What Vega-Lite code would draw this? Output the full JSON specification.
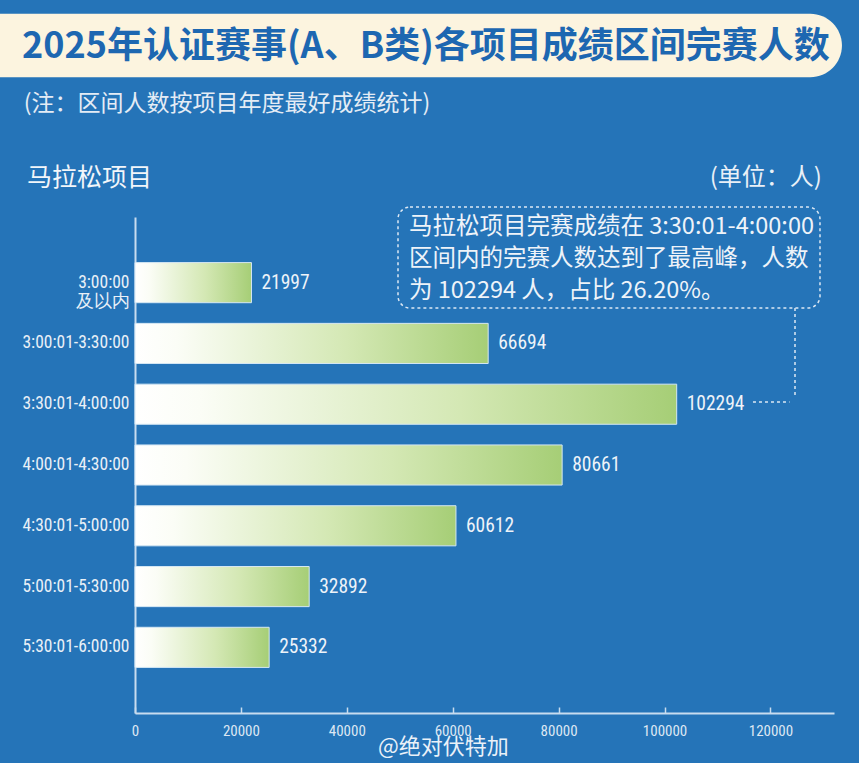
{
  "$schema": "https://vega.github.io/schema/vega-lite/v6.json",
  "width": 699,
  "height": 496,
  "autosize": {"type": "none"},
  "padding": {"left": 135, "top": 217, "right": 25, "bottom": 50},
  "background": "#2574b8",
  "config": {
    "view": {"stroke": null},
    "font": "Noto Sans CJK SC"
  },
  "resolve": {"scale": {"y": "independent"}},
  "layer": [
    {
      "data": {
        "values": [
          {"range": "3:00:00 及以内", "finishers": 21997},
          {"range": "3:00:01-3:30:00", "finishers": 66694},
          {"range": "3:30:01-4:00:00", "finishers": 102294},
          {"range": "4:00:01-4:30:00", "finishers": 80661},
          {"range": "4:30:01-5:00:00", "finishers": 60612},
          {"range": "5:00:01-5:30:00", "finishers": 32892},
          {"range": "5:30:01-6:00:00", "finishers": 25332}
        ]
      },
      "encoding": {
        "y": {
          "field": "range",
          "type": "nominal",
          "sort": null,
          "scale": {"paddingInner": 0.34, "paddingOuter": 0.75},
          "axis": {
            "title": null,
            "ticks": false,
            "domainColor": "#c8dcef",
            "domainWidth": 2,
            "labelFont": "Roboto Condensed, DejaVu Sans Condensed, sans-serif",
            "labelFontSize": 17.5,
            "labelColor": "#e9f0f7",
            "labelPadding": 6,
            "labelExpr": "split(datum.label, ' ')",
            "labelLineHeight": 19
          }
        },
        "x": {
          "field": "finishers",
          "type": "quantitative",
          "scale": {"domain": [0, 132000], "nice": false},
          "axis": {
            "title": null,
            "grid": false,
            "values": [0, 20000, 40000, 60000, 80000, 100000, 120000],
            "format": "d",
            "domainColor": "#c8dcef",
            "domainWidth": 2,
            "tickColor": "#c8dcef",
            "tickSize": -6,
            "tickWidth": 1.5,
            "labelPadding": 16,
            "labelFlush": false,
            "labelFont": "Roboto Condensed, DejaVu Sans Condensed, sans-serif",
            "labelFontSize": 15,
            "labelColor": "#dce7f3"
          }
        }
      },
      "layer": [
        {
          "mark": {
            "type": "bar",
            "stroke": "#d4e7f4",
            "strokeWidth": 1,
            "color": {
              "gradient": "linear",
              "x1": 0, "y1": 0, "x2": 1, "y2": 0,
              "stops": [
                {"offset": 0, "color": "#ffffff"},
                {"offset": 0.12, "color": "#fbfdf6"},
                {"offset": 0.6, "color": "#d4e8b4"},
                {"offset": 1, "color": "#a6ce76"}
              ]
            }
          }
        },
        {
          "mark": {
            "type": "text",
            "align": "left",
            "baseline": "middle",
            "dx": 10,
            "font": "Roboto Condensed, DejaVu Sans Condensed, sans-serif",
            "fontSize": 19.5,
            "color": "#eef3f9"
          },
          "encoding": {"text": {"field": "finishers", "type": "quantitative", "format": "d"}}
        }
      ]
    },
    {
      "data": {"values": [{}]},
      "layer": [
        {
          "mark": {"type": "rect", "color": "#fcf4df", "cornerRadius": 32},
          "encoding": {
            "x": {"datum": -32000, "scale": {"domain": [0, 132000], "nice": false}},
            "x2": {"datum": 133500},
            "y": {"datum": 141, "type": "quantitative", "scale": {"domain": [0, 100], "nice": false, "zero": false}, "axis": null},
            "y2": {"datum": 128.2}
          }
        },
        {
          "mark": {"type": "text", "align": "left", "baseline": "middle", "fontSize": 36, "fontWeight": "bold", "color": "#1d67b1"},
          "encoding": {
            "x": {"datum": -21340, "scale": {"domain": [0, 132000], "nice": false}},
            "y": {"datum": 134.3, "type": "quantitative", "scale": {"domain": [0, 100], "nice": false, "zero": false}, "axis": null},
            "text": {"value": "2025年认证赛事(A、B类)各项目成绩区间完赛人数"}
          }
        },
        {
          "mark": {"type": "text", "align": "left", "baseline": "middle", "fontSize": 23, "color": "#e4ecf5"},
          "encoding": {
            "x": {"datum": -21000, "scale": {"domain": [0, 132000], "nice": false}},
            "y": {"datum": 122.8, "type": "quantitative", "scale": {"domain": [0, 100], "nice": false, "zero": false}, "axis": null},
            "text": {"value": "(注：区间人数按项目年度最好成绩统计)"}
          }
        },
        {
          "mark": {"type": "text", "align": "left", "baseline": "middle", "fontSize": 25, "color": "#f2f6fa"},
          "encoding": {
            "x": {"datum": -20390, "scale": {"domain": [0, 132000], "nice": false}},
            "y": {"datum": 107.9, "type": "quantitative", "scale": {"domain": [0, 100], "nice": false, "zero": false}, "axis": null},
            "text": {"value": "马拉松项目"}
          }
        },
        {
          "mark": {"type": "text", "align": "right", "baseline": "middle", "fontSize": 24, "color": "#e9f0f7"},
          "encoding": {
            "x": {"datum": 129730, "scale": {"domain": [0, 132000], "nice": false}},
            "y": {"datum": 107.9, "type": "quantitative", "scale": {"domain": [0, 100], "nice": false, "zero": false}, "axis": null},
            "text": {"value": "(单位：人)"}
          }
        },
        {
          "mark": {"type": "rect", "filled": false, "stroke": "#dce8f4", "strokeDash": [3, 3], "strokeWidth": 1.5, "cornerRadius": 12},
          "encoding": {
            "x": {"datum": 49665, "scale": {"domain": [0, 132000], "nice": false}},
            "x2": {"datum": 129355},
            "y": {"datum": 102.0, "type": "quantitative", "scale": {"domain": [0, 100], "nice": false, "zero": false}, "axis": null},
            "y2": {"datum": 81.65}
          }
        },
        {
          "mark": {"type": "text", "align": "left", "baseline": "middle", "fontSize": 23.5, "lineBreak": "\n", "lineHeight": 32, "color": "#eef3f9"},
          "encoding": {
            "x": {"datum": 51740, "scale": {"domain": [0, 132000], "nice": false}},
            "y": {"datum": 97.98, "type": "quantitative", "scale": {"domain": [0, 100], "nice": false, "zero": false}, "axis": null},
            "text": {"value": "马拉松项目完赛成绩在 3:30:01-4:00:00\n区间内的完赛人数达到了最高峰，人数\n为 102294 人，占比 26.20%。"}
          }
        },
        {
          "mark": {"type": "rule", "stroke": "#dce8f4", "strokeDash": [3, 3], "strokeWidth": 1.5},
          "encoding": {
            "x": {"datum": 124635, "scale": {"domain": [0, 132000], "nice": false}},
            "y": {"datum": 81.65, "type": "quantitative", "scale": {"domain": [0, 100], "nice": false, "zero": false}, "axis": null},
            "y2": {"datum": 63.5}
          }
        },
        {
          "mark": {"type": "rule", "stroke": "#dce8f4", "strokeDash": [3, 3], "strokeWidth": 1.5},
          "encoding": {
            "x": {"datum": 116700, "scale": {"domain": [0, 132000], "nice": false}},
            "x2": {"datum": 123600},
            "y": {"datum": 62.7, "type": "quantitative", "scale": {"domain": [0, 100], "nice": false, "zero": false}, "axis": null}
          }
        },
        {
          "mark": {"type": "text", "align": "left", "baseline": "middle", "fontSize": 22, "color": "#eaf1f8"},
          "encoding": {
            "x": {"datum": 45890, "scale": {"domain": [0, 132000], "nice": false}},
            "y": {"datum": -6.9, "type": "quantitative", "scale": {"domain": [0, 100], "nice": false, "zero": false}, "axis": null},
            "text": {"value": "@绝对伏特加"}
          }
        }
      ]
    }
  ]
}
